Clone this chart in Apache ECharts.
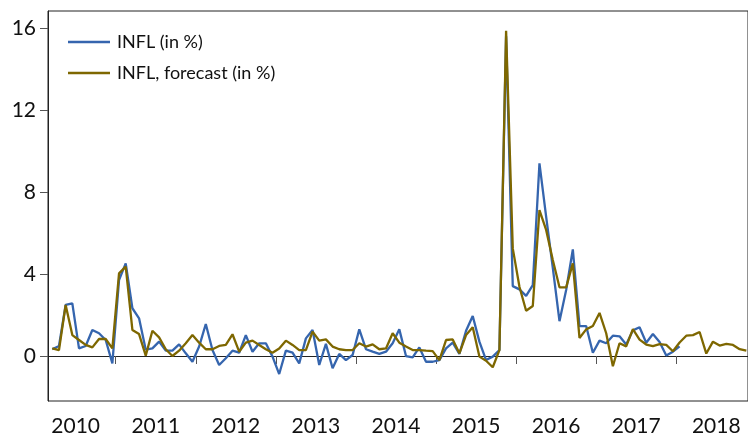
<!DOCTYPE html>
<html><head><meta charset="utf-8">
<script src="https://cdn.jsdelivr.net/npm/echarts@6/dist/echarts.min.js"></script>
<style>html,body{margin:0;padding:0;background:#fff}#c{width:748px;height:438px}</style>
</head><body><div id="c"></div>
<script>
// Monthly data, first observation March 2010
const startYear = 2010;
const startMonth = 3;
const yearLabels = [2010, 2011, 2012, 2013, 2014, 2015, 2016, 2017, 2018];
const yTicks = [0, 4, 8, 12, 16];
const seriesNames = ['INFL (in %)', 'INFL, forecast (in %)'];

const inflActual = [
  0.33, 0.49, 2.49, 2.57, 0.37, 0.49, 1.27, 1.11, 0.78, -0.36,
  3.71, 4.52, 2.33, 1.84, 0.31, 0.37, 0.70, 0.26, 0.26, 0.57, 0.13, -0.28,
  0.46, 1.56, 0.29, -0.44, -0.11, 0.26, 0.16, 1.02, 0.21, 0.62, 0.62, -0.03,
  -0.88, 0.26, 0.16, -0.36, 0.86, 1.27, -0.44, 0.59, -0.60, 0.10, -0.20, 0.05,
  1.30, 0.33, 0.21, 0.10, 0.21, 0.62, 1.30, 0.00, -0.07, 0.42, -0.28, -0.28,
  -0.20, 0.37, 0.65, 0.10, 1.23, 1.95, 0.70, -0.20, -0.03, 0.29, 15.6, 3.41,
  3.25, 2.93, 3.46, 9.40, 6.80, 4.30, 1.70, 3.22, 5.20, 1.46, 1.46, 0.16,
  0.75, 0.62, 0.99, 0.96, 0.56, 1.25, 1.40, 0.65, 1.07, 0.68, 0.02, 0.21,
  0.47
];

const inflForecast = [
  0.37, 0.29, 2.49, 1.02, 0.78, 0.54, 0.42, 0.83, 0.83, 0.37,
  4.03, 4.36, 1.27, 1.07, 0.02, 1.23, 0.91, 0.33, 0.00, 0.26, 0.62, 1.02,
  0.65, 0.33, 0.33, 0.49, 0.54, 1.06, 0.21, 0.65, 0.75, 0.54, 0.33, 0.16,
  0.37, 0.75, 0.54, 0.29, 0.29, 1.19, 0.75, 0.81, 0.46, 0.33, 0.29, 0.29,
  0.62, 0.46, 0.57, 0.33, 0.37, 1.11, 0.65, 0.46, 0.29, 0.29, 0.26, 0.24,
  -0.20, 0.78, 0.81, 0.13, 1.02, 1.40, -0.03, -0.23, -0.55, 0.29, 15.87, 5.25,
  3.38, 2.21, 2.44, 7.12, 6.15, 4.68, 3.35, 3.35, 4.52, 0.88, 1.30, 1.46,
  2.10, 1.11, -0.50, 0.62, 0.47, 1.31, 0.80, 0.56, 0.48, 0.58, 0.54, 0.23,
  0.66, 0.99, 1.02, 1.17, 0.12, 0.70, 0.51, 0.59, 0.54, 0.33, 0.26
];

// x value = months since Jan of first label year, observation plotted mid-month
const toPoints = arr => arr.map((v, i) => [(startYear - yearLabels[0]) * 12 + (startMonth - 1) + i + 0.5, v]);
const yearTickVals = yearLabels.slice(1).map(y => (y - yearLabels[0]) * 12);
const yearLabelVals = yearLabels.map(y => (y - yearLabels[0]) * 12 + 6);

const FONT = 'Lato';
const chart = echarts.init(document.getElementById('c'), null, {renderer: 'canvas'});
chart.setOption({
  animation: false,
  backgroundColor: '#fff',
  grid: {left: 48, top: 11, bottom: 37, right: -3, show: true, borderColor: '#222', borderWidth: 1, containLabel: false},
  legend: {
    data: seriesNames,
    orient: 'vertical', left: 63, top: 27,
    icon: 'rect', itemWidth: 42, itemHeight: 2.5, itemGap: 11,
    textStyle: {fontFamily: FONT, fontSize: 18, color: '#111', lineHeight: 20, padding: [0, 0, 0, 2]}
  },
  xAxis: {
    type: 'value', min: 1.855, max: 106.75,
    splitLine: {show: false},
    axisLine: {show: true, lineStyle: {color: '#222', width: 1}},
    axisTick: {show: true, length: 8, inside: false, customValues: yearTickVals, lineStyle: {color: '#555'}},
    axisLabel: {customValues: yearLabelVals, formatter: v => String(yearLabels[0] + Math.floor(v / 12)),
      fontFamily: FONT, fontSize: 21, color: '#111', margin: 15}
  },
  yAxis: {
    type: 'value', min: -2.195, max: 16.83,
    splitLine: {show: false},
    axisLine: {show: true, lineStyle: {color: '#222', width: 1}},
    axisTick: {show: true, length: 8, customValues: yTicks, lineStyle: {color: '#555'}},
    axisLabel: {customValues: yTicks, fontFamily: FONT, fontSize: 21, color: '#111', margin: 12}
  },
  series: [
    {name: seriesNames[0], type: 'line', data: toPoints(inflActual), symbol: 'none',
     lineStyle: {color: '#3565ae', width: 2.3}, itemStyle: {color: '#3565ae'}},
    {name: seriesNames[1], type: 'line', data: toPoints(inflForecast), symbol: 'none',
     lineStyle: {color: '#7e6700', width: 2.3}, itemStyle: {color: '#7e6700'}}
  ]
});
</script></body></html>
